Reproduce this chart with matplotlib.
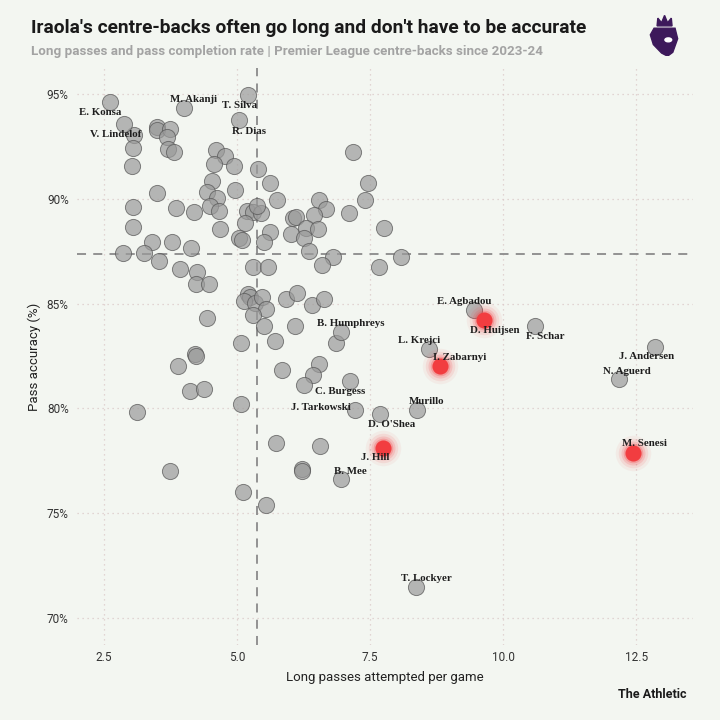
import matplotlib.pyplot as plt
from matplotlib.patches import Polygon, Ellipse

# unnamed centre-backs
other_long = [3.06, 3.50, 3.50, 3.74, 3.68, 3.70, 3.82, 3.05, 3.03, 4.61, 4.77, 4.57, 4.94, 5.39,
              5.62, 4.53, 4.44, 4.62, 4.96, 5.75, 3.50, 3.05, 3.85, 4.19, 4.49, 4.66, 5.19, 5.30,
              5.45, 5.38, 5.15, 5.62, 6.02, 6.05, 6.11, 4.68, 3.05, 5.04, 5.09, 5.51, 3.40, 3.78,
              4.14, 2.86, 3.25, 3.53, 7.18, 7.46, 7.41, 6.54, 6.67, 7.11, 6.45, 6.30, 6.52, 6.26,
              7.76, 6.35, 6.80, 8.08, 6.60, 7.67, 5.30, 5.58, 3.93, 4.25, 4.23, 4.47, 5.21, 5.24,
              5.13, 5.34, 5.47, 5.55, 5.30, 5.92, 6.13, 6.41, 6.64, 4.44, 5.51, 6.09, 6.86, 5.71,
              5.08, 4.21, 4.23, 3.89, 5.85, 6.54, 6.43, 6.26, 4.12, 4.38, 5.08, 3.12, 5.73, 6.56,
              3.74, 6.22, 6.22, 5.11, 5.55]
other_acc = [93.04, 93.43, 93.28, 93.33, 92.95, 92.38, 92.23, 92.42, 91.56, 92.33, 92.04, 91.66,
             91.56, 91.42, 90.75, 90.85, 90.32, 90.04, 90.42, 89.94, 90.28, 89.61, 89.56, 89.37,
             89.66, 89.42, 89.42, 89.37, 89.32, 89.66, 88.85, 88.42, 88.32, 89.08, 89.13, 88.56,
             88.65, 88.13, 88.03, 87.94, 87.94, 87.94, 87.65, 87.41, 87.41, 87.03, 92.23, 90.75,
             89.94, 89.94, 89.51, 89.32, 89.23, 88.61, 88.56, 88.13, 88.61, 87.51, 87.22, 87.22,
             86.84, 86.75, 86.75, 86.75, 86.65, 86.51, 85.94, 85.94, 85.46, 85.31, 85.12, 85.03,
             85.31, 84.74, 84.46, 85.22, 85.51, 84.93, 85.22, 84.31, 83.93, 83.93, 83.12, 83.22,
             83.12, 82.60, 82.50, 82.02, 81.83, 82.12, 81.59, 81.12, 80.83, 80.93, 80.21, 79.83,
             78.35, 78.21, 77.01, 77.11, 77.01, 76.01, 75.39]

# labelled centre-backs
named = ["E. Konsa", "M. Akanji", "T. Silva", "R. Dias", "V. Lindelof", "E. Agbadou", "F. Schar",
         "L. Krejci", "B. Humphreys", "C. Burgess", "J. Tarkowski", "D. O'Shea", "Murillo",
         "B. Mee", "J. Andersen", "N. Aguerd", "T. Lockyer"]
named_long = [2.61, 4.00, 5.21, 5.04, 2.88, 9.45, 10.60, 8.61, 6.95, 7.12, 7.22, 7.69, 8.38,
              6.95, 12.86, 12.18, 8.36]
named_acc = [94.62, 94.33, 94.95, 93.76, 93.57, 84.69, 83.93, 82.83, 83.65, 81.31, 79.92, 79.73,
             79.92, 76.63, 82.93, 81.40, 71.48]

# Bournemouth (Iraola) centre-backs
bou = ["D. Huijsen", "I. Zabarnyi", "J. Hill", "M. Senesi"]
bou_long = [9.64, 8.82, 7.74, 12.44]
bou_acc = [84.22, 82.02, 78.11, 77.87]

avg_long = 5.38
avg_acc = 87.37

# label offsets in pixels (dx, dy)
offsets = {
    "E. Konsa": (-10, -10), "M. Akanji": (10, 9), "T. Silva": (-9, -10), "R. Dias": (10, -11),
    "V. Lindelof": (-9, -10), "E. Agbadou": (-10, 9), "F. Schar": (10, -10), "L. Krejci": (-10, 9),
    "B. Humphreys": (10, 8), "C. Burgess": (-10, -10), "J. Tarkowski": (-34, 3),
    "D. O'Shea": (11, -10), "Murillo": (10, 9), "B. Mee": (9, 8), "J. Andersen": (-9, -9),
    "N. Aguerd": (8, 8), "T. Lockyer": (10, 9), "D. Huijsen": (11, -10), "I. Zabarnyi": (19, 9),
    "J. Hill": (-8, -9), "M. Senesi": (11, 10),
}

bg = '#f3f6f1'
fig = plt.figure(figsize=(7.2, 7.2), dpi=100, facecolor=bg)
ax = fig.add_axes([0.107, 0.104, 0.8556, 0.8014])
ax.set_facecolor(bg)

ax.set_xlim(1.99, 13.57)
ax.set_ylim(68.71, 96.24)
ax.set_xticks([2.5, 5.0, 7.5, 10.0, 12.5])
ax.set_xticklabels(['2.5', '5.0', '7.5', '10.0', '12.5'])
ax.set_yticks([70, 75, 80, 85, 90, 95])
ax.set_yticklabels([f'{v}%' for v in [70, 75, 80, 85, 90, 95]])
for s in ax.spines.values():
    s.set_visible(False)
ax.tick_params(length=0, labelsize=8.5, labelcolor='#333333', pad=4)
ax.tick_params(axis='y', pad=6)
for lab in ax.get_xticklabels() + ax.get_yticklabels():
    lab.set_family('Roboto')
ax.grid(True, color='#dcc9c9', linestyle=(0, (1, 3)), linewidth=0.9)
ax.set_axisbelow(True)

ax.axvline(avg_long, color='#8a8a8a', linestyle=(0, (5, 4)), linewidth=1.3, zorder=1)
ax.axhline(avg_acc, color='#8a8a8a', linestyle=(0, (5, 4)), linewidth=1.3, zorder=1)

ax.scatter(other_long + named_long, other_acc + named_acc, s=135, color='#9a9a9a', alpha=0.7,
           edgecolors='#555555', linewidths=0.7, zorder=3)

for sz, al in [(650, 0.06), (450, 0.1), (300, 0.16), (200, 0.25)]:
    ax.scatter(bou_long, bou_acc, s=sz, color='#f23d40', alpha=al, linewidths=0, zorder=4)
ax.scatter(bou_long, bou_acc, s=135, color='#f23d40', linewidths=0, zorder=5)

for name, x, y in list(zip(named, named_long, named_acc)) + list(zip(bou, bou_long, bou_acc)):
    ax.annotate(name, (x, y), xytext=offsets[name], textcoords='offset pixels',
                ha='center', va='center', fontsize=7.8, fontweight='bold',
                family='Liberation Serif', color='#1e1e1e', zorder=6)

ax.set_xlabel('Long passes attempted per game', fontsize=9.5, family='Roboto', color='#222222',
              labelpad=5)
ax.set_ylabel('Pass accuracy (%)', fontsize=9.5, family='Roboto', color='#222222', labelpad=4)

fig.text(0.043, 0.961, "Iraola's centre-backs often go long and don't have to be accurate",
         fontsize=13.8, fontweight='bold', family=['Liberation Sans Narrow', 'Roboto'],
         color='#1a1a1a', va='center')
fig.text(0.043, 0.929, "Long passes and pass completion rate | Premier League centre-backs since 2023-24",
         fontsize=9.6, fontweight='bold', family=['Liberation Sans Narrow', 'Roboto'],
         color='#a3a3a3', va='center')
fig.text(0.953, 0.036, 'The Athletic', fontsize=9, fontweight='bold',
         family=['Liberation Sans Narrow', 'Roboto'], color='#1a1a1a', ha='right', va='center')

# rough Premier League lion
lax = fig.add_axes([0.897, 0.922, 0.052, 0.062])
lax.set_xlim(0, 1)
lax.set_ylim(0, 1.15)
lax.axis('off')
purple = '#3d195b'
lax.add_patch(Polygon([(0.3, 0.78), (0.32, 0.98), (0.42, 0.86), (0.5, 1.05), (0.58, 0.86),
                       (0.68, 0.98), (0.7, 0.78)], closed=True, color=purple))
lax.add_patch(Polygon([(0.22, 0.72), (0.78, 0.72), (0.85, 0.45), (0.72, 0.1), (0.58, 0.0),
                       (0.42, 0.08), (0.2, 0.3), (0.12, 0.55)], closed=True, color=purple))
lax.add_patch(Ellipse((0.6, 0.42), 0.18, 0.1, color='white'))

fig.savefig('out.png', dpi=100, facecolor=bg)
